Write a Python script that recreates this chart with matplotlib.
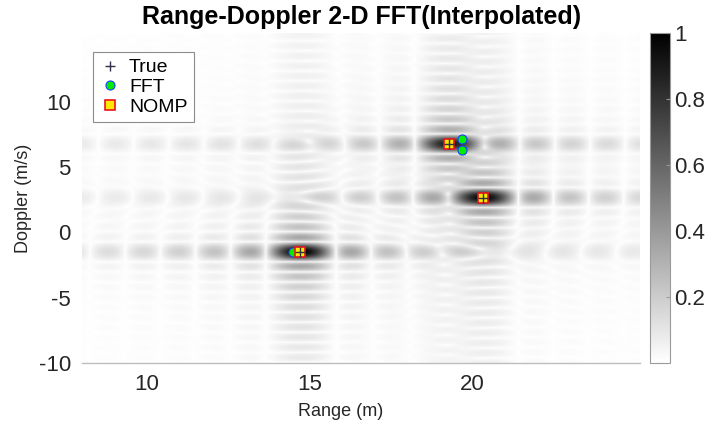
import numpy as np
import matplotlib
matplotlib.use("Agg")
import matplotlib.pyplot as plt
from matplotlib.lines import Line2D

plt.rcParams["font.family"] = ["Liberation Sans", "DejaVu Sans"]
plt.rcParams["axes.unicode_minus"] = False

# scatterer parameters (range in m, doppler in m/s)
true_range = [14.71, 19.29, 20.32]
true_doppler = [-1.50, 6.77, 2.66]
amplitude = [1.00, 0.86, 0.97]
phase = [0.0, 1.1, 2.6]

# coarse FFT peak picks
fft_range = [14.49, 19.68, 19.68, 20.32]
fft_doppler = [-1.50, 7.13, 6.29, 2.66]

# NOMP estimates
nomp_range = [14.71, 19.29, 20.32]
nomp_doppler = [-1.50, 6.77, 2.66]

range_res = 1.08
doppler_res = 0.77
range_lim = (8.0, 25.15)
doppler_lim = (-10.0, 15.25)

# zero-padded 2-D FFT response of the scatterers
r = np.arange(range_lim[0], range_lim[1], 0.04)
v = np.arange(doppler_lim[0], doppler_lim[1], 0.04)
R, V = np.meshgrid(r, v)
field = np.zeros_like(R, dtype=complex)
for rk, vk, ak, pk in zip(true_range, true_doppler, amplitude, phase):
    field += ak * np.exp(1j * pk) * np.sinc((R - rk) / range_res) * np.sinc((V - vk) / doppler_res)
mag = np.abs(field)
mag = (mag / mag.max()) ** 0.7

fig = plt.figure(figsize=(7.14, 4.28), dpi=100)
ax = fig.add_axes([82 / 714, 65 / 428, 558 / 714, 330 / 428])
im = ax.imshow(mag, extent=[r[0], r[-1], v[0], v[-1]], origin="lower", aspect="auto",
               cmap="gray_r", vmin=0, vmax=1, interpolation="bilinear")
ax.set_xlim(*range_lim)
ax.set_ylim(*doppler_lim)

ax.plot(fft_range, fft_doppler, "o", ms=6.5, mfc="#00ee00", mec="#1f3cff", mew=0.8, zorder=3)
ax.plot(nomp_range, nomp_doppler, "s", ms=7, mfc="#ffe800", mec="#e8141e", mew=1.2, zorder=4)
ax.plot(true_range, true_doppler, "+", ms=7, color="#30304a", mew=1.0, zorder=5)

for side in ("left", "top", "right"):
    ax.spines[side].set_visible(False)
ax.spines["bottom"].set_color("#bdbdbd")
ax.spines["bottom"].set_linewidth(1.0)
ax.set_xticks([10, 15, 20])
ax.set_yticks([-10, -5, 0, 5, 10])
ax.tick_params(length=0, labelsize=16, labelcolor="#262626", pad=8)
ax.set_xlabel("Range (m)", fontsize=13, color="#262626")
ax.set_ylabel("Doppler (m/s)", fontsize=13, color="#262626")
ax.xaxis.set_label_coords((341 - 82) / 558, -(403 - 363) / 330)
ax.yaxis.set_label_coords(-(82 - 32) / 558, 0.5)
fig.text(362 / 714, 1 - 17 / 428, "Range-Doppler 2-D FFT(Interpolated)", fontsize=18,
         fontweight="bold", ha="center", va="center", color="black")

handles = [
    Line2D([], [], ls="none", marker="+", ms=7, color="#30304a", mew=1.0),
    Line2D([], [], ls="none", marker="o", ms=6.5, mfc="#00ee00", mec="#1f3cff", mew=0.8),
    Line2D([], [], ls="none", marker="s", ms=7, mfc="#ffe800", mec="#e8141e", mew=1.2),
]
leg = ax.legend(handles, ["True", "FFT", "NOMP"], loc="upper left",
                bbox_to_anchor=((93 - 82) / 558, (363 - 52) / 330), borderaxespad=0,
                fontsize=14, fancybox=False, framealpha=1, edgecolor="#8c8c8c",
                handlelength=1.0, handletextpad=0.5, borderpad=0.35, labelspacing=0.1)
leg.get_frame().set_linewidth(0.8)

cax = fig.add_axes([650 / 714, 65 / 428, 20 / 714, 330 / 428])
cb = fig.colorbar(im, cax=cax)
cb.set_ticks([0.2, 0.4, 0.6, 0.8, 1.0])
cb.set_ticklabels(["0.2", "0.4", "0.6", "0.8", "1"])
cb.outline.set_edgecolor("#9a9a9a")
cb.outline.set_linewidth(0.8)
cax.tick_params(direction="in", length=3, color="#9a9a9a", labelsize=16, labelcolor="#262626", pad=3)

fig.savefig("out.png", dpi=100)
